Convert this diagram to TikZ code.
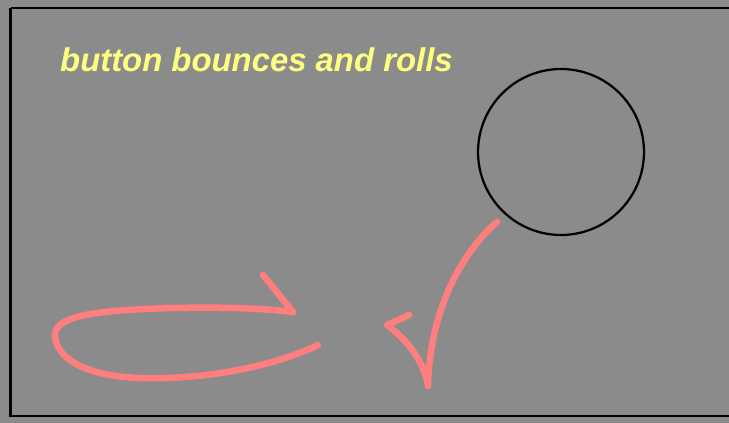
\documentclass[tikz,border=0pt]{standalone}
\usepackage{fontspec}
\setmainfont{Liberation Sans}
\definecolor{bggray}{HTML}{8B8B8B}
\definecolor{chalkyellow}{HTML}{FFFF80}
\definecolor{strokepink}{HTML}{FF7E7E}
\begin{document}
\begin{tikzpicture}[
    x=0.02cm, y=-0.02cm,
    frame/.style={draw=black, line width=0.055cm},
    button_style/.style={circle, draw=black, line width=0.045cm, minimum size=3.32cm, inner sep=0pt},
    caption/.style={anchor=base west, text=chalkyellow, font=\fontsize{18.7}{20}\selectfont\bfseries\itshape},
    pen/.style={strokepink, line width=0.13cm, line cap=round, line join=round}
]
% Fond
\useasboundingbox (0,0) rectangle (729,422);
\fill[bggray] (-5,-5) rectangle (760,430);
\draw[frame] (10.5,8) -- (790,8);
\draw[frame] (790,416) -- (10.5,416) -- (10.5,8);

% Texte et bouton
\node[caption] (title) at (54,72) {button bounces and rolls};
\node[button_style] (button) at (561,152) {};

% Rebond
\draw[pen] (497,222) .. controls (470,245) and (430,300) .. (428,386)
    .. controls (424,360) and (405,338) .. (387,325) -- (409,315);

% Roulement
\draw[pen] (318,345) .. controls (270,368) and (200,380) .. (140,378)
    .. controls (80,376) and (55,355) .. (55,335)
    .. controls (55,315) and (100,310) .. (173,308)
    .. controls (220,307) and (260,308) .. (293,312) -- (263,275);
\end{tikzpicture}
\end{document}
